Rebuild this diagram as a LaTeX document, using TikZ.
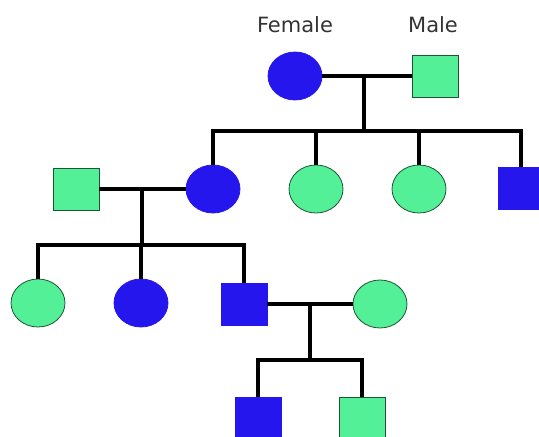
\documentclass[tikz,border=0pt]{standalone}
\usepackage{fontspec}
\setmainfont{DejaVu Sans}
\usepackage{tikz}
\usetikzlibrary{shapes.geometric, positioning, calc}
\definecolor{pedblue}{RGB}{38,22,238}
\definecolor{pedgreen}{RGB}{84,240,152}

\begin{document}
\begin{tikzpicture}[x=1pt,y=-1pt,
    fem/.style={ellipse,minimum width=54pt,minimum height=48pt,inner sep=0pt,line width=0.8pt},
    mal/.style={rectangle,minimum width=46pt,minimum height=42pt,inner sep=0pt,line width=0.8pt},
    aff/.style={fill=pedblue,draw=pedblue},
    unaff/.style={fill=pedgreen,draw=pedgreen!35!black},
    link/.style={line width=3.2pt,black}]
    \useasboundingbox (0,0) rectangle (539,437);

    % Legend
    \node[font=\fontsize{21}{24}\selectfont,black!80] (lblF) at (295,25) {Female};
    \node[font=\fontsize{21}{24}\selectfont,black!80] (lblM) at (433,25) {Male};

    % Generation 1
    \node[fem,aff] (gf) at (295,76) {};
    \node[mal,unaff] (gm) at (435,76) {};
    \coordinate (j1) at (364,76);
    \coordinate (b1) at (364,131);

    % Generation 2
    \node[mal,unaff] (m2a) at (76,189) {};
    \node[fem,aff] (f2a) at (213,189) {};
    \node[fem,unaff] (f2b) at (316,189) {};
    \node[fem,unaff] (f2c) at (419,189) {};
    \node[mal,aff] (m2b) at (521,188) {};
    \coordinate (j2) at (142,189);
    \coordinate (b2) at (142,245);

    % Generation 3
    \node[fem,unaff] (f3a) at (38,303) {};
    \node[fem,aff] (f3b) at (141,303) {};
    \node[mal,aff] (m3) at (244,304) {};
    \node[fem,unaff] (f3c) at (380,304) {};
    \coordinate (j3) at (310,304);
    \coordinate (b3) at (310,360);

    % Generation 4
    \node[mal,aff] (m4a) at (258,418) {};
    \node[mal,unaff] (m4b) at (362,418) {};

    % Connections
    \draw[link] (gf) -- (gm);
    \draw[link] (j1) -- (b1);
    \draw[link] (f2a) |- (b1) -| (m2b);
    \draw[link] (f2b) -- (f2b |- b1);
    \draw[link] (f2c) -- (f2c |- b1);

    \draw[link] (m2a) -- (f2a);
    \draw[link] (j2) -- (b2);
    \draw[link] (f3a) |- (b2) -| (m3);
    \draw[link] (f3b) -- (f3b |- b2);

    \draw[link] (m3) -- (f3c);
    \draw[link] (j3) -- (b3);
    \draw[link] (m4a) |- (b3) -| (m4b);
\end{tikzpicture}
\end{document}
